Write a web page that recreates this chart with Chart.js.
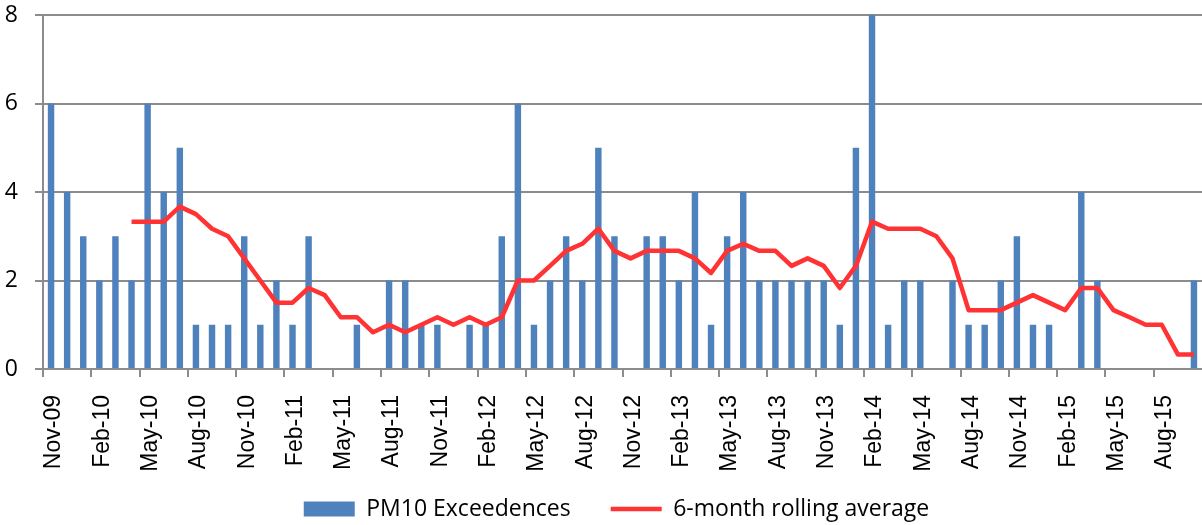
<!DOCTYPE html>
<html>
<head>
<meta charset="utf-8">
<script src="https://cdn.jsdelivr.net/npm/chart.js@4.4.1/dist/chart.umd.min.js"></script>
<style>
  body { margin: 0; background: #fff; }
  #wrap { width: 1202px; height: 525px; }
</style>
</head>
<body>
<div id="wrap"><canvas id="chart" width="1202" height="525"></canvas></div>
<script>
// Months, Nov-09 to Oct-15
var months = [
  "Nov-09", "Dec-09",
  "Jan-10", "Feb-10", "Mar-10", "Apr-10", "May-10", "Jun-10", "Jul-10", "Aug-10", "Sep-10", "Oct-10", "Nov-10", "Dec-10",
  "Jan-11", "Feb-11", "Mar-11", "Apr-11", "May-11", "Jun-11", "Jul-11", "Aug-11", "Sep-11", "Oct-11", "Nov-11", "Dec-11",
  "Jan-12", "Feb-12", "Mar-12", "Apr-12", "May-12", "Jun-12", "Jul-12", "Aug-12", "Sep-12", "Oct-12", "Nov-12", "Dec-12",
  "Jan-13", "Feb-13", "Mar-13", "Apr-13", "May-13", "Jun-13", "Jul-13", "Aug-13", "Sep-13", "Oct-13", "Nov-13", "Dec-13",
  "Jan-14", "Feb-14", "Mar-14", "Apr-14", "May-14", "Jun-14", "Jul-14", "Aug-14", "Sep-14", "Oct-14", "Nov-14", "Dec-14",
  "Jan-15", "Feb-15", "Mar-15", "Apr-15", "May-15", "Jun-15", "Jul-15", "Aug-15", "Sep-15", "Oct-15"
];

// PM10 exceedences per month
var exceedences = [
  6, 4,
  3, 2, 3, 2, 6, 4, 5, 1, 1, 1, 3, 1,
  2, 1, 3, 0, 0, 1, 0, 2, 2, 1, 1, 0,
  1, 1, 3, 6, 1, 2, 3, 2, 5, 3, 0, 3,
  3, 2, 4, 1, 3, 4, 2, 2, 2, 2, 2, 1,
  5, 8, 1, 2, 2, 0, 2, 1, 1, 2, 3, 1,
  1, 0, 4, 2, 0, 0, 0, 0, 0, 2
];

// 6-month rolling average (starts in Apr-10)
var rollingAverage = [
  null, null,
  null, null, null, 3.33, 3.33, 3.33, 3.67, 3.5, 3.17, 3.0, 2.5, 2.0,
  1.5, 1.5, 1.83, 1.67, 1.17, 1.17, 0.83, 1.0, 0.83, 1.0, 1.17, 1.0,
  1.17, 1.0, 1.17, 2.0, 2.0, 2.33, 2.67, 2.83, 3.17, 2.67, 2.5, 2.67,
  2.67, 2.67, 2.5, 2.17, 2.67, 2.83, 2.67, 2.67, 2.33, 2.5, 2.33, 1.83,
  2.33, 3.33, 3.17, 3.17, 3.17, 3.0, 2.5, 1.33, 1.33, 1.33, 1.5, 1.67,
  1.5, 1.33, 1.83, 1.83, 1.33, 1.17, 1.0, 1.0, 0.33, 0.33
];

var yMin = 0;
var yMax = 8;
var yStep = 2;

var gridGray = "#8c8c8c";

// nudge the legend to where the original sits (a bit right of centre, closer to the axis labels)
var legendNudge = {
  id: "legendNudge",
  afterLayout: function (chart) {
    var lg = chart.legend;
    lg.top = 457.5;
    lg.bottom = 525;
    lg.height = lg.bottom - lg.top;
    lg.left += 13;
    lg.right += 13;
  }
};

var ctx = document.getElementById("chart").getContext("2d");
var chart = new Chart(ctx, {
  type: "bar",
  data: {
    labels: months,
    datasets: [
      {
        type: "bar",
        label: "PM10 Exceedences",
        data: exceedences,
        backgroundColor: "#4F81BD",
        borderWidth: 0,
        barPercentage: 0.4,
        categoryPercentage: 1.0,
        pointStyle: "rect",
        order: 1
      },
      {
        type: "line",
        label: "6-month rolling average",
        data: rollingAverage,
        borderColor: "#FF3333",
        backgroundColor: "#FF3333",
        borderWidth: 4.5,
        borderJoinStyle: "round",
        pointRadius: 0,
        pointStyle: "line",
        tension: 0,
        fill: false,
        order: 0
      }
    ]
  },
  options: {
    responsive: false,
    animation: false,
    events: [],
    layout: {
      padding: { top: 15, left: 0, right: -5, bottom: 0 }
    },
    scales: {
      x: {
        grid: {
          drawOnChartArea: false,
          drawTicks: true,
          tickLength: 8,
          lineWidth: 2,
          color: function (c) {
            return c.index % 3 === 0 ? gridGray : "rgba(0,0,0,0)";
          }
        },
        border: { display: true, color: gridGray, width: 2 },
        ticks: {
          autoSkip: false,
          minRotation: 90,
          maxRotation: 90,
          padding: 18,
          labelOffset: 3,
          color: "#000",
          font: { family: "'Liberation Sans', Arial, sans-serif", size: 23 },
          callback: function (val, i) {
            return i % 3 === 0 ? months[i] : "";
          }
        },
        afterFit: function (scale) {
          scale.height = 116;
          scale.paddingLeft = 0;
          scale.paddingRight = 0;
        }
      },
      y: {
        min: yMin,
        max: yMax,
        grid: {
          color: gridGray,
          lineWidth: 2,
          tickLength: 8
        },
        border: { display: true, color: gridGray, width: 2 },
        ticks: {
          stepSize: yStep,
          padding: 17,
          color: "#000",
          font: { family: "'Open Sans', sans-serif", size: 23 }
        },
        afterFit: function (scale) {
          scale.width = 43;
          scale.paddingTop = 0;
          scale.paddingBottom = 0;
        }
      }
    },
    plugins: {
      tooltip: { enabled: false },
      legend: {
        position: "bottom",
        maxHeight: 40,
        labels: {
          usePointStyle: true,
          pointStyleWidth: 51,
          boxHeight: 15,
          padding: 40,
          color: "#000",
          font: { family: "'Open Sans', sans-serif", size: 23 },
          sort: function (a, b) {
            return a.datasetIndex - b.datasetIndex;
          }
        }
      }
    }
  },
  plugins: [legendNudge]
});
</script>
</body>
</html>
